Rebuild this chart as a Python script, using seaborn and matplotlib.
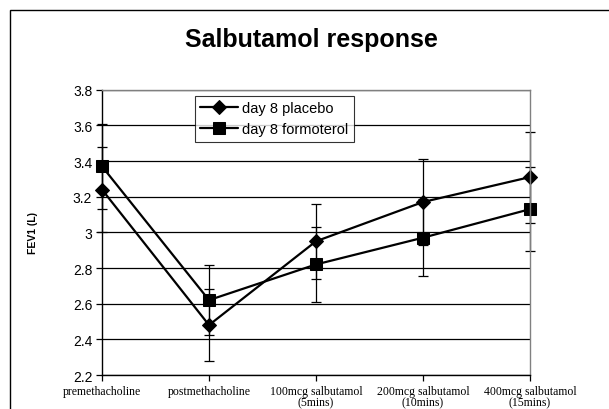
import matplotlib
matplotlib.use("Agg")
import matplotlib.pyplot as plt
import matplotlib.patches as mpatches
import seaborn as sns
import pandas as pd
import numpy as np

# ---- data ----
categories = ["premethacholine", "postmethacholine", "100mcg salbutamol\n(5mins)",
              "200mcg salbutamol\n(10mins)", "400mcg salbutamol\n(15mins)"]
placebo = [3.24, 2.48, 2.95, 3.17, 3.31]
placebo_err = [0.24, 0.20, 0.21, 0.24, 0.255]
formoterol = [3.37, 2.62, 2.82, 2.97, 3.13]
formoterol_err = [0.24, 0.195, 0.21, 0.215, 0.235]
series_names = ["day 8 placebo", "day 8 formoterol"]
yticks = [2.2, 2.4, 2.6, 2.8, 3.0, 3.2, 3.4, 3.6, 3.8]
ytick_labels = ["2.2", "2.4", "2.6", "2.8", "3", "3.2", "3.4", "3.6", "3.8"]

sns.set_style("white")
plt.rcParams["font.family"] = ["Liberation Sans", "DejaVu Sans"]
plt.rcParams["text.color"] = "black"
plt.rcParams["xtick.color"] = "black"
plt.rcParams["ytick.color"] = "black"

pos = np.arange(len(categories))
df = pd.DataFrame({
    "pos": np.concatenate([pos, pos]),
    "FEV1": placebo + formoterol,
    "series": [series_names[0]] * len(pos) + [series_names[1]] * len(pos),
})

W, H = 609, 410
fig = plt.figure(figsize=(W / 100, H / 100), dpi=100)
fig.patch.set_facecolor("white")

# outer chart border (cut off right & bottom)
fig.patches.append(mpatches.Rectangle((10 / W, -0.2), 1.2, 1.2 - 10.7 / H,
                                      transform=fig.transFigure, fill=False,
                                      edgecolor="black", linewidth=1.0))

left, right = 102 / W, 530 / W
top, bottom = 1 - 90.7 / H, 1 - 376 / H
ax = fig.add_axes([left, bottom, right - left, top - bottom])

# grid
for y in yticks:
    ax.axhline(y, color="black", linewidth=0.9, zorder=1)

# error bars
ax.errorbar(pos, placebo, yerr=placebo_err, fmt="none", ecolor="black",
            elinewidth=0.9, capsize=3.5, capthick=0.9, zorder=2, clip_on=False)
ax.errorbar(pos, formoterol, yerr=formoterol_err, fmt="none", ecolor="black",
            elinewidth=0.9, capsize=3.5, capthick=0.9, zorder=2, clip_on=False)

sns.lineplot(data=df, x="pos", y="FEV1", hue="series", style="series",
             markers={series_names[0]: "D", series_names[1]: "s"},
             dashes=False, palette=["black", "black"], linewidth=1.6,
             markersize=8, markeredgecolor="black", ax=ax, zorder=3,
             clip_on=False, legend=True)
for ln in ax.lines:
    if ln.get_marker() == "D":
        ln.set_markersize(7)
    elif ln.get_marker() == "s":
        ln.set_markersize(8.5)

ax.set_xlim(0, 4)
ax.set_ylim(2.2, 3.8)
ax.set_yticks(yticks)
ax.set_yticklabels(ytick_labels, fontsize=10)
ax.set_xticks(pos)
ax.set_xticklabels(categories, fontsize=8.5, family=["Liberation Serif"], linespacing=1.0)
ax.tick_params(axis="both", direction="out", length=4, width=0.9, color="black",
               left=True, bottom=True, pad=3)
ax.tick_params(axis="x", pad=3)

for s in ["left", "bottom"]:
    ax.spines[s].set_color("black")
    ax.spines[s].set_linewidth(1.0)
for s in ["top", "right"]:
    ax.spines[s].set_color("#808080")
    ax.spines[s].set_linewidth(1.0)
for s in ax.spines.values():
    s.set_zorder(4)

ax.set_xlabel("")
ax.set_ylabel("")
fig.text(33 / W, 1 - 233 / H, "FEV1 (L)", rotation=90, ha="center", va="center",
         fontsize=7.5, fontweight="bold")

fig.text(311 / W, 1 - 40 / H, "Salbutamol response", ha="center", va="center",
         fontsize=18, fontweight="bold")

handles, labels = ax.get_legend_handles_labels()
leg = ax.legend(handles, labels, loc="upper left",
                bbox_to_anchor=((195 - 102) / 428, (376 - 97) / 285.3),
                frameon=True, fancybox=False, shadow=False, fontsize=10.5,
                handlelength=2.6, handletextpad=0.3, labelspacing=0.5,
                borderpad=0.35, borderaxespad=0)
leg.get_frame().set_edgecolor("black")
leg.get_frame().set_linewidth(0.8)
leg.set_zorder(5)

fig.savefig("out.png", dpi=100, facecolor="white")
